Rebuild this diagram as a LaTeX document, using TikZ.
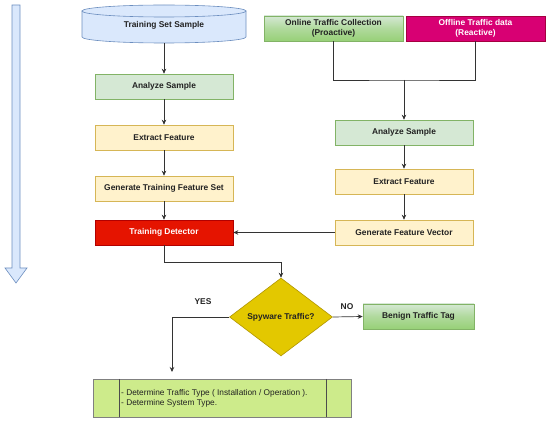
\documentclass[tikz,border=0pt]{standalone}
\usepackage{fontspec}
\setmainfont{Liberation Sans}
\usetikzlibrary{arrows.meta,shapes.geometric,calc}
\definecolor{cylfill}{HTML}{DAE8FC}
\definecolor{cyldraw}{HTML}{6C8EBF}
\definecolor{grfill}{HTML}{D5E8D4}
\definecolor{grdraw}{HTML}{82B366}
\definecolor{grdark}{HTML}{97D077}
\definecolor{yefill}{HTML}{FFF2CC}
\definecolor{yedraw}{HTML}{D6B656}
\definecolor{rdfill}{HTML}{E51400}
\definecolor{rddraw}{HTML}{B20000}
\definecolor{mgfill}{HTML}{D80073}
\definecolor{mgdraw}{HTML}{A50040}
\definecolor{dmfill}{HTML}{E3C800}
\definecolor{dmdraw}{HTML}{B09500}
\definecolor{lmfill}{HTML}{CDEB8B}
\definecolor{lmdraw}{HTML}{808080}
\definecolor{txt}{HTML}{222222}
\tikzset{
  base/.style={rectangle, minimum width=138pt, minimum height=25pt, inner sep=1pt,
    font=\fontsize{8.4}{9.5}\selectfont\bfseries, text=txt, line width=0.6pt, align=center},
  greenbox/.style={base, fill=grfill, draw=grdraw},
  yellowbox/.style={base, fill=yefill, draw=yedraw},
  redbox/.style={base, fill=rdfill, draw=rddraw, text=white},
  gradbox/.style={base, top color=grfill, bottom color=grdark, middle color=grdark!60!grfill, draw=grdraw},
  magbox/.style={base, fill=mgfill, draw=mgdraw, text=white},
  conn/.style={draw=black!80, line width=0.7pt},
  arr/.style={conn, -{Stealth[length=5pt,width=4.5pt]}},
  lbl/.style={font=\fontsize{8.4}{9.5}\selectfont\bfseries, text=txt},
}
\begin{document}
\begin{tikzpicture}[x=1pt,y=-1pt]
\useasboundingbox (0,0) rectangle (550,425);
% left big arrow
\draw[fill=cylfill, draw=cyldraw, line width=0.6pt]
  (12,5) -- (20,5) -- (20,268) -- (27,268) -- (16,283) -- (5,268) -- (12,268) -- cycle;
% cylinder
\draw[fill=cylfill, draw=cyldraw, line width=0.6pt]
  (82,11) -- (82,37) arc[start angle=180, end angle=360, x radius=82pt, y radius=6pt]
  -- (246,11) -- cycle;
\draw[fill=cylfill, draw=cyldraw, line width=0.6pt] (164,11) ellipse [x radius=82pt, y radius=6pt];
\node[base, minimum width=164pt, minimum height=35pt] (tss) at (164,25.5) {Training Set Sample};
% left column
\node[greenbox] (as1) at (164,86.5) {Analyze Sample};
\node[yellowbox] (ef1) at (164,137.5) {Extract Feature};
\node[yellowbox] (gtf) at (164,188.5) {Generate Training Feature Set};
\node[redbox] (td) at (164,232.5) {Training Detector};
% right column
\node[gradbox, minimum width=139pt] (on) at (333.5,28.5) {Online Traffic Collection\\(Proactive)};
\node[magbox, minimum width=139pt] (off) at (475.5,28.5) {Offline Traffic data\\(Reactive)};
\node[greenbox] (as2) at (404,132.5) {Analyze Sample};
\node[yellowbox] (ef2) at (404,181.5) {Extract Feature};
\node[yellowbox] (gfv) at (404,232.5) {Generate Feature Vector};
% decision
\node[diamond, aspect=1.32, minimum width=103pt, minimum height=78pt, inner sep=0pt,
  fill=dmfill, draw=dmdraw, line width=0.6pt, font=\fontsize{8.4}{9.5}\selectfont\bfseries, text=txt] (dia) at (281,317) {Spyware Traffic?};
\node[gradbox, minimum width=111pt] (ben) at (418.5,316.5) {Benign Traffic Tag};
% bottom process box
\node[rectangle, minimum width=258pt, minimum height=38pt, fill=lmfill, draw=lmdraw, line width=0.9pt] (res) at (222,398) {};
\draw[draw=black!70, line width=0.6pt] (119,379) -- (119,417) (326,379) -- (326,417);
\node[anchor=west, align=left, font=\fontsize{8.3}{9.3}\selectfont, text=txt, inner sep=0pt] (restxt) at (121,398.5)
  {- Determine Traffic Type ( Installation / Operation ).\\- Determine System Type.};
% connectors
\draw[arr] (tss.south) -- (as1.north);
\draw[arr] (as1) -- (ef1);
\draw[arr] (ef1) -- (gtf);
\draw[arr] (gtf) -- (td);
\coordinate (mid) at (404,80);
\draw[conn] (on.south) |- (mid) -| (off.south);
\draw[arr] (mid) -- (as2.north);
\draw[arr] (as2) -- (ef2);
\draw[arr] (ef2) -- (gfv);
\draw[arr] (gfv.west) -- (td.east);
\coordinate (tdturn) at (164,262);
\draw[arr] (td.south) -- (tdturn) -| (dia.north);
\coordinate (yesend) at (172,372);
\draw[arr] (dia.west) -| (yesend);
\draw[arr] (dia.east) -- (ben.west);
\node[lbl] (yes) at (203,302) {YES};
\node[lbl] (no) at (347,307) {NO};
\end{tikzpicture}
\end{document}
